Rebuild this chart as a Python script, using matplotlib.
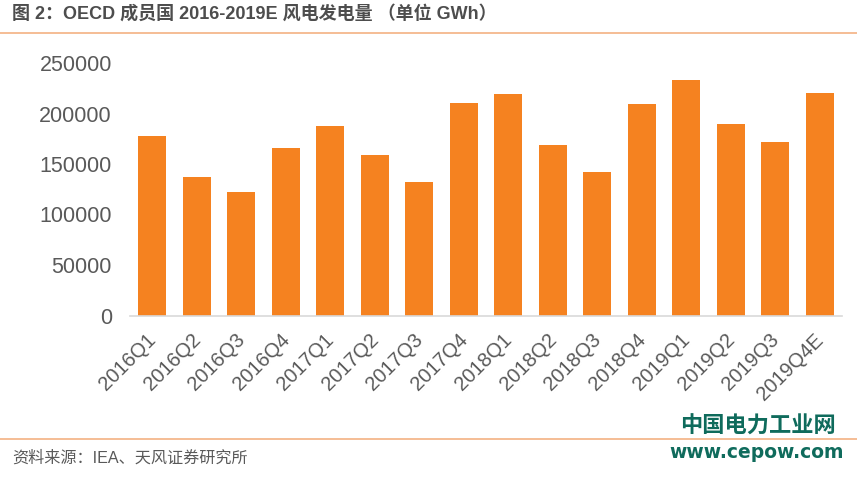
import matplotlib
matplotlib.use("Agg")
import matplotlib.pyplot as plt
from matplotlib.transforms import ScaledTranslation

plt.rcParams['font.family'] = ['Liberation Sans', 'Noto Sans CJK SC', 'DejaVu Sans']

quarters = ["2016Q1", "2016Q2", "2016Q3", "2016Q4", "2017Q1", "2017Q2", "2017Q3", "2017Q4",
            "2018Q1", "2018Q2", "2018Q3", "2018Q4", "2019Q1", "2019Q2", "2019Q3", "2019Q4E"]
generation = [178000, 137500, 122000, 166000, 188000, 158500, 132000, 210500,
              219000, 168500, 142500, 209500, 233500, 190000, 172000, 220000]
y_ticks = [0, 50000, 100000, 150000, 200000, 250000]

W, H = 857, 482
fig = plt.figure(figsize=(W / 100, H / 100), dpi=100)

# axes box in pixels: x 130-842, y 63-315.5
ax = fig.add_axes([130 / W, 1 - 315.5 / H, 712 / W, 252.5 / H])
ax.bar(range(len(quarters)), generation, width=0.63, color="#F58220")
ax.set_xlim(-0.5, len(quarters) - 0.5)
ax.set_ylim(0, 250000)
ax.set_yticks(y_ticks)
ax.set_xticks(range(len(quarters)))
ax.set_xticklabels(quarters, rotation=45, ha="right", rotation_mode="anchor")
ax.tick_params(axis="y", length=0, labelsize=15.5, labelcolor="#595959", pad=13)
ax.tick_params(axis="x", length=0, labelsize=14.5, labelcolor="#595959", pad=10.5)
for side in ["top", "right", "left"]:
    ax.spines[side].set_visible(False)
ax.spines["bottom"].set_color("#D9D9D9")
ax.spines["bottom"].set_linewidth(1.2)

# nudge x tick labels to where the original sits
x_shift = ScaledTranslation(-6 / 100, 0, fig.dpi_scale_trans)
for lab in ax.get_xticklabels():
    lab.set_transform(lab.get_transform() + x_shift)

# header and footer rules
fig.add_artist(plt.Line2D([0, 1], [1 - 33 / H] * 2, color="#F4B183", lw=1.2))
fig.add_artist(plt.Line2D([0, 1], [1 - 439 / H] * 2, color="#F4B183", lw=1.2))

fig.text(12 / W, 1 - 14 / H, "图 2：OECD 成员国 2016-2019E 风电发电量 （单位 GWh）",
         fontsize=13, fontweight="bold", color="#4D4D4D", va="center", ha="left")
fig.text(12 / W, 1 - 458 / H, "资料来源：IEA、天风证券研究所",
         fontsize=11.6, color="#595959", va="center", ha="left")

# watermark
fig.text(757.5 / W, 1 - 427 / H, "中国电力工业网", fontsize=16, fontweight="bold",
         color="#0F6B5C", va="center", ha="center")
fig.text(757 / W, 1 - 453 / H, "www.cepow.com", fontsize=13.5, fontweight="bold",
         color="#0F6B5C", va="center", ha="center", family=["DejaVu Sans"])

fig.savefig("out.png", dpi=100)
